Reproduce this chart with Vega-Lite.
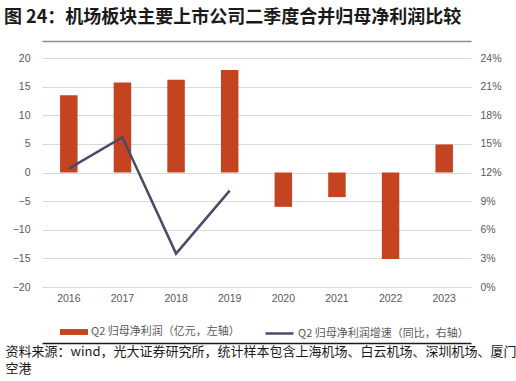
{
  "$schema": "https://vega.github.io/schema/vega-lite/v6.json",
  "autosize": {"type": "none"},
  "width": 429,
  "height": 229,
  "padding": {"left": 42, "top": 58, "right": 45, "bottom": 94},
  "background": "white",
  "config": {
    "view": {"stroke": null},
    "font": "Liberation Sans",
    "axis": {"labelColor": "#595959", "labelFontSize": 10.5, "labelFont": "Liberation Sans"}
  },
  "title": {
    "text": "图 24：机场板块主要上市公司二季度合并归母净利润比较",
    "anchor": "start",
    "frame": "group",
    "font": "Noto Sans CJK SC",
    "fontSize": 18,
    "fontWeight": "bold",
    "color": "#1a1a1a",
    "dx": -38,
    "offset": 14
  },
  "data": {
    "values": [
      {"year": "2016", "profit": 13.5, "growth": 0.124, "s1": "Q2 归母净利润（亿元，左轴）", "s2": "Q2 归母净利润增速（同比，右轴）"},
      {"year": "2017", "profit": 15.7, "growth": 0.157, "s1": "Q2 归母净利润（亿元，左轴）", "s2": "Q2 归母净利润增速（同比，右轴）"},
      {"year": "2018", "profit": 16.2, "growth": 0.035, "s1": "Q2 归母净利润（亿元，左轴）", "s2": "Q2 归母净利润增速（同比，右轴）"},
      {"year": "2019", "profit": 17.9, "growth": 0.101, "s1": "Q2 归母净利润（亿元，左轴）", "s2": "Q2 归母净利润增速（同比，右轴）"},
      {"year": "2020", "profit": -6.0, "growth": null, "s1": "Q2 归母净利润（亿元，左轴）", "s2": "Q2 归母净利润增速（同比，右轴）"},
      {"year": "2021", "profit": -4.3, "growth": null, "s1": "Q2 归母净利润（亿元，左轴）", "s2": "Q2 归母净利润增速（同比，右轴）"},
      {"year": "2022", "profit": -15.1, "growth": null, "s1": "Q2 归母净利润（亿元，左轴）", "s2": "Q2 归母净利润增速（同比，右轴）"},
      {"year": "2023", "profit": 4.9, "growth": null, "s1": "Q2 归母净利润（亿元，左轴）", "s2": "Q2 归母净利润增速（同比，右轴）"}
    ]
  },
  "layer": [
    {
      "mark": {"type": "bar", "width": 17.5},
      "encoding": {
        "x": {
          "field": "year", "type": "ordinal",
          "scale": {"paddingInner": 0, "paddingOuter": 0},
          "axis": {
            "orient": "bottom",
            "offset": 56,
            "domain": true,
            "domainColor": "#1a1a1a",
            "domainWidth": 1.5,
            "ticks": false,
            "labelAngle": 0,
            "labelPadding": -50,
            "labelBaseline": "top",
            "title": ["资料来源：wind，光大证券研究所，统计样本包含上海机场、白云机场、深圳机场、厦门", "空港"],
            "titleFont": "Noto Sans CJK SC",
            "titleFontSize": 13,
            "titleFontWeight": "normal",
            "titleColor": "#1a1a1a",
            "titleAnchor": "start",
            "titleAlign": "left",
            "titleBaseline": "top",
            "titleLineHeight": 17.5,
            "titleX": -37,
            "titleY": 2
          }
        },
        "y": {
          "field": "profit", "type": "quantitative",
          "scale": {"domain": [-20, 20], "nice": false},
          "axis": {
            "orient": "left",
            "values": [-20, -15, -10, -5, 0, 5, 10, 15, 20],
            "title": null,
            "domain": false,
            "ticks": false,
            "labelPadding": 12,
            "grid": true,
            "gridColor": "#D9D9D9",
            "gridWidth": 1
          }
        },
        "fill": {
          "field": "s1", "type": "nominal",
          "scale": {"range": ["#C44422"]},
          "legend": {
            "title": null,
            "orient": "none",
            "legendX": 18,
            "legendY": 260,
            "padding": 0,
            "symbolType": "M-1,-0.21H1V0.21H-1Z",
            "symbolSize": 784,
            "symbolStrokeWidth": 0,
            "labelFont": "Noto Sans CJK SC",
            "labelFontSize": 11,
            "labelColor": "#595959",
            "labelOffset": 3,
            "labelLimit": 0
          }
        }
      }
    },
    {
      "mark": {"type": "line", "strokeWidth": 2.5},
      "encoding": {
        "x": {
          "field": "year", "type": "ordinal",
          "axis": {
            "orient": "top",
            "offset": 17,
            "domain": true,
            "domainColor": "#8C8C8C",
            "domainWidth": 1.5,
            "ticks": false,
            "labels": false,
            "title": null
          }
        },
        "y": {
          "field": "growth", "type": "quantitative",
          "scale": {"domain": [0, 0.24], "nice": false},
          "axis": {
            "orient": "right",
            "values": [0, 0.03, 0.06, 0.09, 0.12, 0.15, 0.18, 0.21, 0.24],
            "format": ".0%",
            "title": null,
            "domain": false,
            "ticks": false,
            "grid": false,
            "labelPadding": 9
          }
        },
        "stroke": {
          "field": "s2", "type": "nominal",
          "scale": {"range": ["#4A4A6A"]},
          "legend": {
            "title": null,
            "orient": "none",
            "legendX": 222,
            "legendY": 260,
            "padding": 0,
            "symbolType": "stroke",
            "symbolSize": 784,
            "symbolStrokeWidth": 2.5,
            "labelFont": "Noto Sans CJK SC",
            "labelFontSize": 11,
            "labelColor": "#595959",
            "labelOffset": 3,
            "labelLimit": 0
          }
        }
      }
    }
  ],
  "resolve": {
    "scale": {"y": "independent", "fill": "independent", "stroke": "independent"},
    "axis": {"x": "independent"},
    "legend": {"fill": "independent", "stroke": "independent"}
  }
}
